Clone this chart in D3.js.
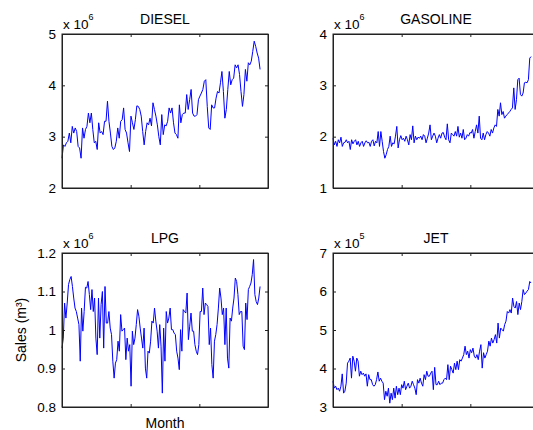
<!DOCTYPE html>
<html>
<head>
<meta charset="utf-8">
<script src="https://cdn.jsdelivr.net/npm/d3@7"></script>
<style>
  html, body { margin: 0; padding: 0; background: #fff; }
  svg { display: block; font-family: "Liberation Sans", Arial, Helvetica, sans-serif; }
</style>
</head>
<body>
<svg id="chart" width="533" height="430"></svg>
<script>
// Monthly fuel sales, values in units of 10^exponent m³
const diesel = [2.58,2.84,2.81,2.88,2.91,3.07,2.88,3.2,3.07,3.17,3.1,2.81,2.78,2.58,3.17,2.97,3.14,3.2,3.46,3.27,
  3.46,3.14,2.88,2.91,2.75,3.27,3.07,3.1,3.04,3.3,3.3,3.69,3.3,3.07,2.81,2.75,2.78,2.91,3.17,2.97,
  3.3,3.33,3.56,3.14,3.07,2.88,2.71,3.4,3.27,3.14,3.33,3.6,3.59,3.53,3.4,3.1,2.84,3.1,3.27,3.23,
  3.36,3.21,3.66,3.53,3.4,3.23,3.0,2.84,3.43,3.04,3.23,3.21,3.3,3.56,3.46,3.56,3.27,3.07,3.04,2.97,
  3.62,3.27,3.43,3.46,3.46,3.82,3.53,3.72,3.92,3.46,3.4,3.4,3.43,3.72,3.79,3.85,3.92,4.08,4.11,3.59,
  3.17,3.14,3.62,3.56,3.56,3.75,3.88,3.85,4.05,4.27,3.88,3.36,3.53,3.92,4.27,4.01,4.11,4.14,4.4,4.34,
  4.4,4.21,3.88,3.59,3.82,4.31,4.08,4.44,4.4,4.47,4.66,4.86,4.76,4.63,4.53,4.31];

const gasoline = [1.97,1.84,1.91,1.81,1.94,1.88,1.99,1.81,1.88,1.89,1.94,1.88,1.91,1.75,1.94,1.86,1.91,1.94,1.84,1.91,
  1.81,1.88,1.91,1.81,1.88,1.92,1.88,1.89,1.81,1.91,1.94,1.82,1.91,1.88,2.10,1.81,2.10,1.91,1.71,1.58,
  1.65,1.75,1.81,2.01,1.81,1.88,1.86,2.01,2.20,1.78,1.94,2.02,1.94,1.97,1.91,2.01,1.94,1.84,2.04,1.94,
  2.21,1.88,2.01,1.94,1.99,1.97,2.01,1.94,2.04,2.01,1.88,1.97,2.07,2.23,1.94,2.01,2.07,2.01,1.88,1.97,
  2.04,1.97,2.07,2.08,1.99,1.94,2.25,1.94,1.88,2.07,2.04,2.01,2.10,2.01,2.20,1.99,2.07,1.97,2.14,1.94,
  1.97,2.04,2.01,2.08,2.07,2.14,1.97,2.10,2.23,2.07,2.40,1.97,1.94,2.07,1.94,2.04,2.10,2.07,2.01,2.14,
  2.07,2.17,2.23,2.20,2.53,2.40,2.66,2.43,2.49,2.36,2.40,2.43,2.46,2.49,2.53,2.56,2.95,2.53,2.72,3.11,
  3.14,2.82,2.79,2.85,3.05,3.06,3.05,3.11,3.53,3.56];

const lpg = [0.953,0.979,1.070,1.031,1.070,1.118,1.131,1.139,1.113,1.083,1.057,1.048,1.031,1.014,0.919,1.057,0.997,1.048,1.111,1.109,
  1.126,1.092,1.053,1.105,1.048,1.083,0.979,0.936,1.083,0.979,1.066,1.100,0.953,1.113,1.018,1.018,1.048,1.005,0.988,0.919,
  0.875,0.914,0.923,0.971,0.945,1.040,0.997,1.001,1.005,0.923,0.979,0.945,0.962,0.854,0.997,0.962,0.979,1.014,1.053,1.036,
  1.005,0.979,0.953,1.005,0.901,0.875,0.945,0.940,0.971,1.023,1.018,1.057,1.023,0.997,0.953,1.014,0.958,0.836,1.005,0.919,
  1.048,1.018,1.031,1.057,1.001,1.001,0.992,0.988,0.945,0.927,0.897,1.001,0.945,1.053,1.048,1.044,1.096,0.975,1.010,1.044,
  0.997,0.997,0.962,0.945,0.936,0.962,1.048,1.048,1.109,1.040,1.070,1.066,1.061,0.962,1.005,0.910,0.875,0.971,0.988,1.014,
  1.057,1.109,1.083,1.040,1.057,0.962,1.057,0.927,0.901,1.031,1.023,1.057,1.083,1.135,1.126,1.092,1.040,1.048,1.048,0.958,
  0.949,1.070,1.027,1.105,1.113,1.122,1.144,1.183,1.092,1.074,1.066,1.083,1.113];

const jet = [3.67,3.49,3.54,3.45,3.49,3.41,3.54,3.86,3.36,3.41,3.62,4.14,4.19,4.27,3.75,4.32,4.19,3.93,4.27,4.19,
  3.80,3.93,3.84,3.88,3.80,3.86,3.54,3.84,3.71,3.71,3.58,3.54,3.58,3.71,3.91,3.67,3.75,3.67,3.62,3.19,
  3.41,3.28,3.49,3.10,3.36,3.19,3.49,3.23,3.54,3.32,3.49,3.32,3.58,3.49,3.67,3.45,3.54,3.62,3.49,3.54,
  3.67,3.58,3.49,3.32,3.71,3.62,3.75,3.62,3.54,3.84,3.71,3.93,3.80,3.80,3.88,3.93,3.45,4.03,3.58,3.58,
  3.67,3.58,3.62,3.62,3.71,3.75,3.71,4.10,3.71,4.06,3.97,3.88,4.14,3.97,4.19,3.97,4.23,4.19,4.27,4.36,
  4.58,4.36,4.45,4.27,4.49,4.41,4.53,4.32,4.27,4.36,4.23,4.45,4.62,4.01,4.41,4.27,4.36,4.45,4.71,4.58,
  4.79,4.66,4.75,4.88,4.66,5.18,4.79,5.05,5.01,4.97,5.14,5.23,5.48,5.44,5.53,5.44,5.83,5.61,5.57,5.74,
  5.40,5.70,5.53,5.74,6.05,5.92,5.96,6.01,6.05,6.26,6.22];

// Tick labels per panel
const dieselTicks = [2, 3, 4, 5];
const gasolineTicks = [1, 2, 3, 4];
const lpgTicks = ["0.8", "0.9", "1", "1.1", "1.2"];
const jetTicks = [3, 4, 5, 6, 7];

const panels = [
  { title: "DIESEL",   values: diesel,   ticks: dieselTicks.map(Number),   labels: dieselTicks.map(String),   exp: 6, col: 0, row: 0 },
  { title: "GASOLINE", values: gasoline, ticks: gasolineTicks.map(Number), labels: gasolineTicks.map(String), exp: 6, col: 1, row: 0 },
  { title: "LPG",      values: lpg,      ticks: lpgTicks.map(Number),      labels: lpgTicks,                  exp: 6, col: 0, row: 1 },
  { title: "JET",      values: jet,      ticks: jetTicks.map(Number),      labels: jetTicks.map(String),      exp: 5, col: 1, row: 1 }
];

const svg = d3.select("#chart");
const W = 206, H = 154;
const lefts = [62, 333], tops = [34, 253];
const AXIS_SPAN = 1.04;      // axis runs a little past the last month
const TICK = 3;

panels.forEach(p => {
  const x0 = lefts[p.col], y0 = tops[p.row];
  const g = svg.append("g").attr("transform", `translate(${x0},${y0})`);
  const n = p.values.length;
  const xMax = (n - 1) * AXIS_SPAN;
  const x = d3.scaleLinear().domain([0, xMax]).range([0, W]);
  const y = d3.scaleLinear().domain(d3.extent(p.ticks)).range([H, 0]);

  // data line
  g.append("path")
    .datum(p.values)
    .attr("fill", "none")
    .attr("stroke", "#0000ff")
    .attr("stroke-width", 1)
    .attr("stroke-linejoin", "round")
    .attr("d", d3.line().x((d, i) => x(i)).y(d => y(d)));

  // box
  g.append("rect").attr("x", 0).attr("y", 0).attr("width", W).attr("height", H)
    .attr("fill", "none").attr("stroke", "#222").attr("stroke-width", 1);

  // y ticks inward on both sides, labels on the left
  const yAxisL = d3.axisLeft(y).tickValues(p.ticks).tickSizeInner(-TICK).tickSizeOuter(0)
    .tickPadding(6).tickFormat((d, i) => p.labels[i]);
  const gl = g.append("g").call(yAxisL);
  const yAxisR = d3.axisRight(y).tickValues(p.ticks).tickSizeInner(-TICK).tickSizeOuter(0).tickFormat("");
  const gr = g.append("g").attr("transform", `translate(${W},0)`).call(yAxisR);

  // x ticks inward on top and bottom, no labels
  const xt = [0, 1, 2, 3].map(k => k * xMax / 3);
  const xAxisB = d3.axisBottom(x).tickValues(xt).tickSizeInner(-TICK).tickSizeOuter(0).tickFormat("");
  const gb = g.append("g").attr("transform", `translate(0,${H})`).call(xAxisB);
  const xAxisT = d3.axisTop(x).tickValues(xt).tickSizeInner(-TICK).tickSizeOuter(0).tickFormat("");
  const gt = g.append("g").call(xAxisT);

  [gl, gr, gb, gt].forEach(a => {
    a.select(".domain").attr("stroke", "#222");
    a.selectAll(".tick line").attr("stroke", "#222");
    a.selectAll(".tick text").attr("fill", "#000").attr("font-size", 13.5)
      .attr("font-family", "'Liberation Sans', Arial, sans-serif");
  });

  // title
  g.append("text").attr("x", W / 2).attr("y", -10).attr("text-anchor", "middle")
    .attr("font-size", 14).text(p.title);

  // exponent label
  const ex = g.append("text").attr("x", 1).attr("y", -5).attr("font-size", 13.5);
  ex.append("tspan").text("x 10");
  ex.append("tspan").attr("dy", -9).attr("font-size", 9).text(p.exp);
});

// axis titles
svg.append("text")
  .attr("transform", `translate(26,${tops[1] + H / 2}) rotate(-90)`)
  .attr("text-anchor", "middle").attr("font-size", 14)
  .text("Sales (m³)");

svg.append("text")
  .attr("x", lefts[0] + W / 2).attr("y", 428)
  .attr("text-anchor", "middle").attr("font-size", 14)
  .text("Month");
</script>
</body>
</html>
